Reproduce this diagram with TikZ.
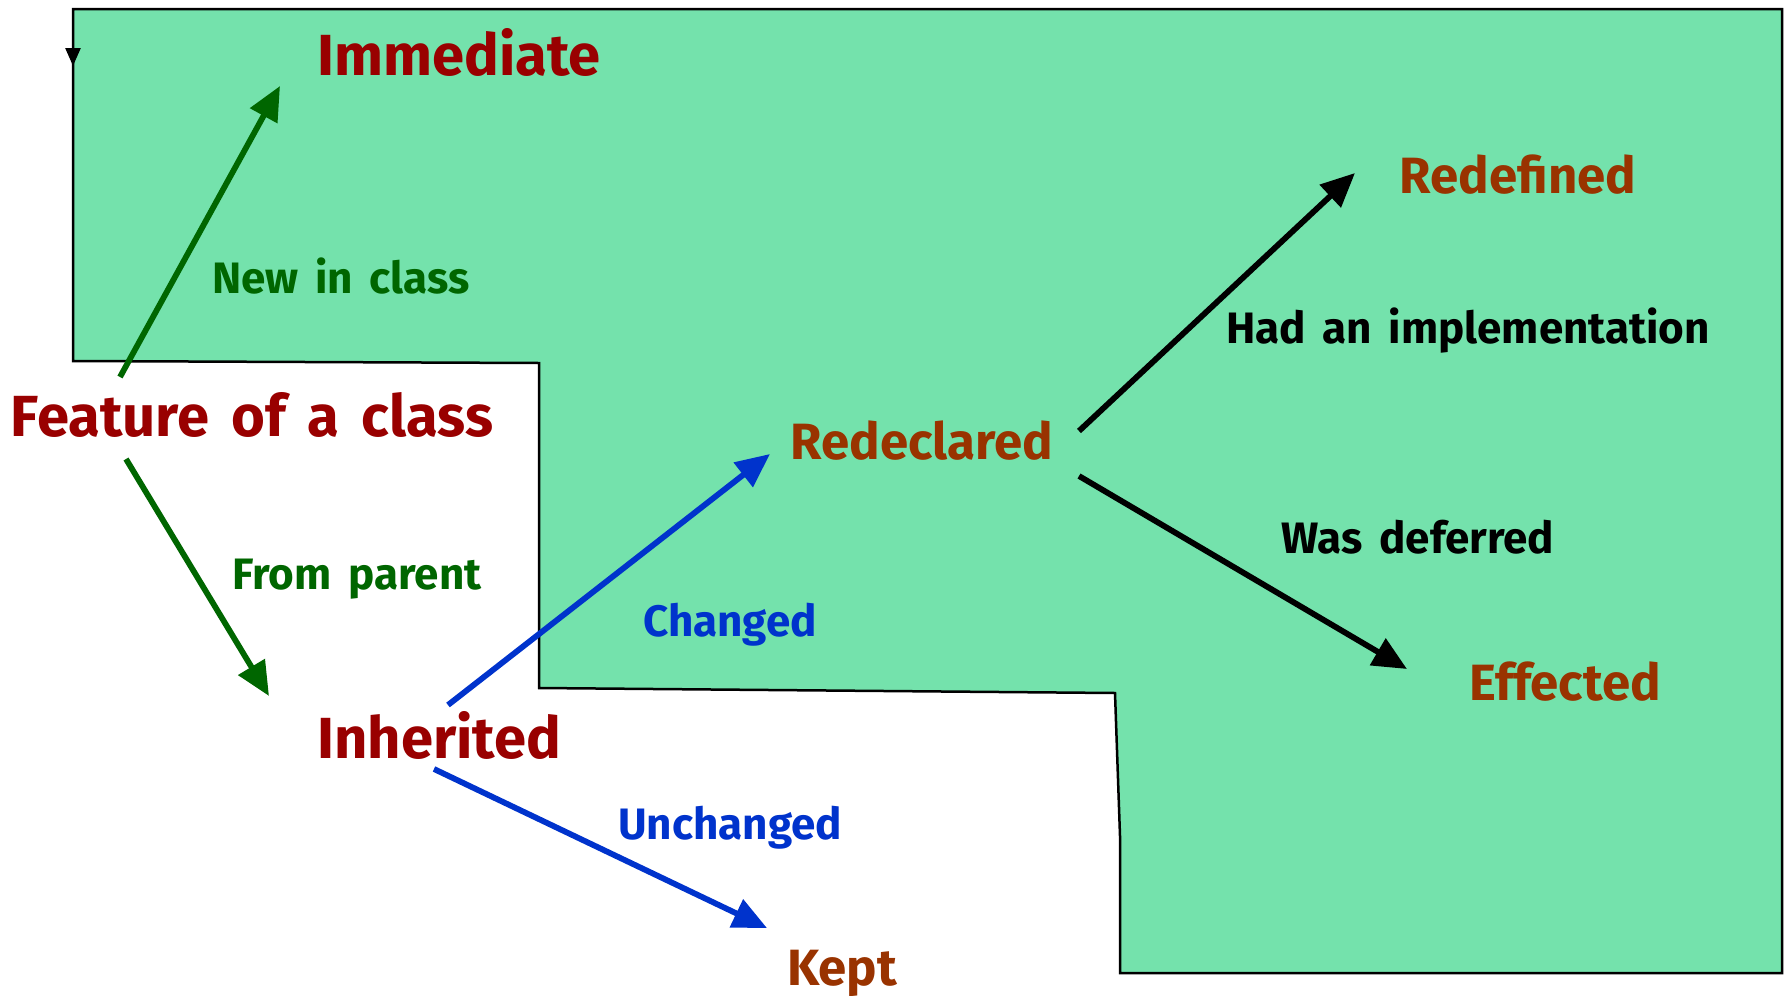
\documentclass[tikz,border=0pt]{standalone}
\usepackage{fontspec}
\setmainfont{Fira Sans}[WordSpace=1.6]
\usetikzlibrary{arrows.meta}
\definecolor{mint}{RGB}{116,226,172}
\definecolor{dred}{RGB}{153,0,0}
\definecolor{brn}{RGB}{153,51,0}
\definecolor{dgreen}{RGB}{0,102,0}
\definecolor{eblue}{RGB}{0,51,204}
\tikzset{
  lbl/.style={anchor=base, inner sep=0pt, font=\bfseries},
  redlbl/.style={lbl, text=dred, font=\bfseries\fontsize{58}{62}\selectfont},
  brnlbl/.style={lbl, text=brn, font=\bfseries\fontsize{51}{55}\selectfont},
  edgelbl/.style={lbl, font=\bfseries\fontsize{44}{48}\selectfont},
  arr/.style={line width=5.8pt, -{Triangle[length=34pt,width=30pt]}},
}
\begin{document}
\begin{tikzpicture}[x=1pt,y=-1pt]
\useasboundingbox (0,0) rectangle (1789,996);
% region
\draw[fill=mint, line width=2.5pt, line join=miter]
  (73,9) -- (1782,9) -- (1782,973) -- (1120,973) -- (1120,836) -- (1115,693)
  -- (539,688) -- (539,363) -- (73,361) -- cycle;
\coordinate (tk0) at (73,36);
\coordinate (tk1) at (73,66);
\draw[line width=2.5pt, -{Triangle[length=18pt,width=15pt]}] (tk0) -- (tk1);
% nodes
\node[redlbl] (imm) at (459,75) {Immediate};
\node[redlbl] (feat) at (252,436) {Feature of a class};
\node[redlbl] (inh) at (439,758) {Inherited};
\node[brnlbl] (kept) at (842,985) {Kept};
\node[brnlbl] (redecl) at (922,459) {Redeclared};
\node[brnlbl] (redef) at (1518,193) {Redefined};
\node[brnlbl] (eff) at (1565,700) {Effected};
% edge labels
\node[edgelbl, text=dgreen] (lnew) at (341,293) {New in class};
\node[edgelbl, text=dgreen] (lfrom) at (357,589) {From parent};
\node[edgelbl, text=eblue] (lchg) at (730,636) {Changed};
\node[edgelbl, text=eblue] (lunchg) at (730,839) {Unchanged};
\node[edgelbl, text=black] (lhad) at (1468,343) {Had an implementation};
\node[edgelbl, text=black] (lwas) at (1418,553) {Was deferred};
% arrow end points
\coordinate (a1s) at (120,377);
\coordinate (a1e) at (280,86);
\coordinate (a2s) at (126,459);
\coordinate (a2e) at (269,696);
\coordinate (a3s) at (448,705);
\coordinate (a3e) at (770,454);
\coordinate (a4s) at (434,769);
\coordinate (a4e) at (767,928);
\coordinate (a5s) at (1079,431);
\coordinate (a5e) at (1355,173);
\coordinate (a6s) at (1079,476);
\coordinate (a6e) at (1407,669);
\draw[arr, dgreen] (a1s) -- (a1e);
\draw[arr, dgreen] (a2s) -- (a2e);
\draw[arr, eblue] (a3s) -- (a3e);
\draw[arr, eblue] (a4s) -- (a4e);
\draw[arr, black] (a5s) -- (a5e);
\draw[arr, black] (a6s) -- (a6e);
\end{tikzpicture}
\end{document}
